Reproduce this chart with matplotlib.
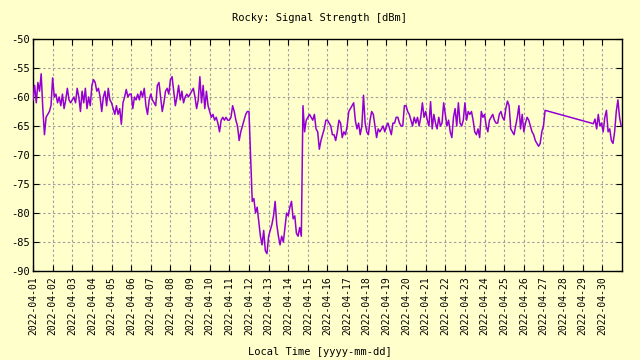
import matplotlib
matplotlib.use("Agg")
import matplotlib.pyplot as plt
import pandas as pd

# ---------------- data ----------------
title = "Rocky: Signal Strength [dBm]"
x_label = "Local Time [yyyy-mm-dd]"

# segment 1: samples every 2 hours starting 2022-04-01 00:00
seg1_start = "2022-04-01 00:00"
seg1_values = [
    -60.5, -58, -61, -57.5, -59, -56, -62, -66.5, -63.5, -63, -62.5, -61.5,
    -56.7, -60, -59.5, -61, -60, -61.5, -59.5, -62, -60.5, -58.5, -60.5, -61,
    -60.5, -60, -61, -58.5, -60, -62.5, -59, -61, -58.5, -62, -60, -61.5,
    -58, -57, -57.5, -59, -58.5, -60, -62.5, -60, -59, -61.5, -58.5, -60.5,
    -61, -62, -63, -61.5, -63, -62, -64.7, -61, -60, -58.7, -60, -59.5,
    -59.5, -62, -60, -60.5, -59.5, -60.5, -59, -60, -58.5, -61.5, -63, -60.5,
    -59.5, -60.5, -61, -61.5, -58, -57.5, -60, -62.5, -61, -59, -58.5, -59.5,
    -57, -56.5, -59, -61.5, -60, -58, -60.5, -59, -61, -60, -59.5, -60,
    -59.5, -59, -58.5, -60, -62, -60.5, -56.5, -61, -58, -62, -59, -61.5,
    -62.5, -63.5, -63, -64, -63.5, -64.5, -66, -64, -63.5, -64, -63.5, -64,
    -64, -63.5, -61.5, -62.5, -64, -65, -67.5, -66, -65, -64, -63, -62.5,
    -62.5, -70.5, -78, -77.5, -80, -79, -81.5, -84, -85.5, -83, -86.5, -87,
    -84, -83, -82, -80.5, -78, -82, -84, -85.5, -84, -85, -82.5, -80,
    -80.5, -79, -78, -81, -80.5, -83.5, -84, -82.5, -84, -61.5, -66, -64,
    -63.5, -63, -63.5, -64, -63, -65.5, -66, -69, -67.5, -66.5, -65.5, -64,
    -64, -64.5, -65, -66.5, -66.5, -67.5, -66, -64, -64.5, -67, -66, -66.5,
    -65, -62.5, -62, -61.5, -61, -64, -65.5, -64.5, -66.5, -65, -59.7, -64.5,
    -66, -66.5, -64, -62.5, -63, -65, -67, -65.5, -66, -65.5, -65, -66,
    -65, -64.5, -65.5, -66.5, -64.5, -64.5, -63.5, -63.5, -64.5, -65, -65, -61.5,
    -61.5, -62.5, -63, -64, -65, -63.5, -64.5, -63.5, -65, -63.5, -61, -63.5,
    -62.5, -64, -65, -60.8, -65.5, -63, -64.5, -65.5, -63.5, -65, -64.5, -61,
    -63, -65, -64, -66, -67, -63.5, -62, -65, -61, -64.5, -65, -64,
    -61, -64, -62.5, -63, -62.5, -64, -66, -66.5, -65.5, -67, -62.5, -63.5,
    -63, -65, -66, -64, -63.5, -63, -64, -64.5, -64.5, -63, -62.5, -63.5,
    -64, -62, -60.7, -61.5, -65.5, -66, -66.5, -65, -63.5, -61.5, -65.5, -63,
    -66, -64.5, -63.5, -64, -65, -66, -66.5, -67.5, -68, -68.5, -68, -66,
    -65, -62.3,
]

# segment 2: samples every 2 hours starting 2022-04-29 13:00 (after data gap)
seg2_start = "2022-04-29 13:00"
seg2_values = [
    -64.6, -63.8, -65.5, -63, -65, -64.5, -66, -63.5, -62.3,
    -66, -65.5, -67.5, -68, -66, -62.5, -60.5, -63.5, -65,
]
sample_step = "2h"

y_ticks = [-90, -85, -80, -75, -70, -65, -60, -55, -50]
y_tick_labels = ["-90", "-85", "-80", "-75", "-70", "-65", "-60", "-55", "-50"]
x_tick_labels = ["2022-04-%02d" % d for d in range(1, 31)]
x_min, x_max = "2022-04-01", "2022-05-01"

# ---------------- build series ----------------
t1 = pd.date_range(seg1_start, periods=len(seg1_values), freq=sample_step)
t2 = pd.date_range(seg2_start, periods=len(seg2_values), freq=sample_step)
times = list(t1) + list(t2)
values = seg1_values + seg2_values

# ---------------- plot ----------------
BG = "#ffffcc"
FONT = "DejaVu Sans Mono"
plt.rcParams["font.family"] = [FONT]

fig = plt.figure(figsize=(6.4, 3.6), dpi=100, facecolor=BG)
ax = fig.add_axes([33 / 640, 1 - 271 / 360, 589 / 640, 232 / 360])
ax.set_facecolor(BG)

ax.plot(times, values, color="#9400d3", lw=1.1, zorder=3)

ax.set_xlim(pd.Timestamp(x_min), pd.Timestamp(x_max))
ax.set_ylim(-90, -50)
ax.set_yticks(y_ticks)
ax.set_yticklabels(y_tick_labels, fontsize=7.5)
ax.set_xticks([pd.Timestamp(s) for s in x_tick_labels])
ax.set_xticklabels(x_tick_labels, rotation=90, fontsize=7)

ax.grid(True, color="#a0a0a0", linestyle=(0, (2.2, 2.2)), linewidth=0.8, zorder=1)
ax.tick_params(direction="in", length=4, width=0.8, top=True, right=True,
               color="black")
ax.tick_params(axis="x", pad=4)
ax.tick_params(axis="y", pad=2)
for s in ax.spines.values():
    s.set_color("black")
    s.set_linewidth(1.0)

fig.text(0.5, 1 - 18 / 360, title, ha="center", va="center", fontsize=7.5)
fig.text(0.5, 1 - 352 / 360, x_label, ha="center", va="center", fontsize=7.5)

fig.savefig("out.png", dpi=100, facecolor=BG)
